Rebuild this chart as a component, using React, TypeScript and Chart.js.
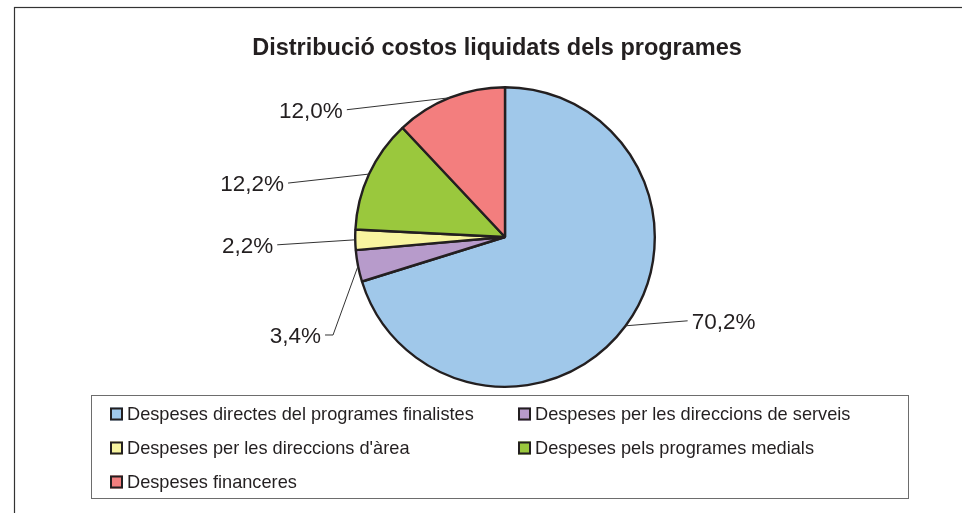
import React, { useEffect, useRef } from "react";
import { Chart, registerables } from "chart.js";

Chart.register(...registerables);

const TITLE = "Distribució costos liquidats dels programes";
const categories = [
  "Despeses directes del programes finalistes",
  "Despeses per les direccions de serveis",
  "Despeses per les direccions d'àrea",
  "Despeses pels programes medials",
  "Despeses financeres",
];
const values = [70.2, 3.4, 2.2, 12.2, 12.0];
const colors = ["#A0C8EA", "#B79BCB", "#F8F5A0", "#9AC83D", "#F37E7E"];

// leader-line elbow offsets from the arc edge (layout only)
const labelLayout = [
  { dx: 62, dy: -5, tail: 0 },
  { dx: -25, dy: 69, tail: -8 },
  { dx: -78, dy: 5, tail: 0 },
  { dx: -81, dy: 9, tail: 0 },
  { dx: -103, dy: 12, tail: 0 },
];

const FONT = "'Liberation Sans', Arial, sans-serif";
const TEXT = "#231F20";

const decorPlugin = {
  id: "decor",
  beforeDraw(chart: any) {
    const ctx = chart.ctx;
    ctx.save();
    ctx.fillStyle = "#fff";
    ctx.fillRect(0, 0, chart.width, chart.height);
    ctx.strokeStyle = "#333";
    ctx.lineWidth = 1.2;
    ctx.strokeRect(14.5, 7.5, chart.width + 20, chart.height + 20);
    ctx.fillStyle = TEXT;
    ctx.font = `bold 23.5px ${FONT}`;
    ctx.textAlign = "center";
    ctx.textBaseline = "alphabetic";
    ctx.fillText(TITLE, 497, 55);
    ctx.restore();
  },
  afterDatasetsDraw(chart: any) {
    const ctx = chart.ctx;
    const meta = chart.getDatasetMeta(0);
    const data = chart.data.datasets[0].data as number[];
    ctx.save();
    ctx.font = `22.5px ${FONT}`;
    ctx.fillStyle = TEXT;
    ctx.textBaseline = "alphabetic";
    meta.data.forEach((arc: any, i: number) => {
      const p = arc.getProps(["x", "y", "startAngle", "endAngle", "outerRadius"], true);
      const mid = (p.startAngle + p.endAngle) / 2;
      const ex = p.x + Math.cos(mid) * p.outerRadius;
      const ey = p.y + Math.sin(mid) * p.outerRadius;
      const L = labelLayout[i];
      const bx = ex + L.dx;
      const by = ey + L.dy;
      const tx = bx + L.tail;
      ctx.strokeStyle = "#333";
      ctx.lineWidth = 1;
      ctx.beginPath();
      ctx.moveTo(ex, ey);
      ctx.lineTo(bx, by);
      if (L.tail) ctx.lineTo(tx, by);
      ctx.stroke();
      const txt = data[i].toFixed(1).replace(".", ",") + "%";
      const right = L.dx < 0;
      ctx.textAlign = right ? "right" : "left";
      ctx.fillText(txt, right ? tx - 4 : tx + 4, by + 8);
    });
    ctx.strokeStyle = "#6d6d6d";
    ctx.lineWidth = 1;
    ctx.strokeRect(91.5, 395.5, 817, 103);
    ctx.font = `18.2px ${FONT}`;
    ctx.textAlign = "left";
    const labels = chart.data.labels as string[];
    const bg = chart.data.datasets[0].backgroundColor as string[];
    labels.forEach((lab: string, i: number) => {
      const col = i % 2;
      const row = Math.floor(i / 2);
      const sx = col === 0 ? 110 : 518;
      const base = 420 + row * 34;
      ctx.fillStyle = bg[i];
      ctx.fillRect(sx, base - 12.5, 13, 13);
      ctx.strokeStyle = "#231F20";
      ctx.lineWidth = 2;
      ctx.strokeRect(sx + 1, base - 11.5, 11, 11);
      ctx.fillStyle = TEXT;
      ctx.fillText(lab, sx + 17, base);
    });
    ctx.restore();
  },
};

export default function App() {
  const ref = useRef<HTMLCanvasElement>(null);
  useEffect(() => {
    if (!ref.current) return;
    const chart = new Chart(ref.current, {
      type: "pie",
      data: {
        labels: categories,
        datasets: [
          {
            data: values,
            backgroundColor: colors,
            borderColor: "#231F20",
            borderWidth: 2.4,
          },
        ],
      },
      options: {
        responsive: false,
        animation: false,
        devicePixelRatio: 1,
        layout: { padding: { left: 354, right: 306, top: 86, bottom: 125 } },
        plugins: {
          legend: { display: false },
          title: { display: false },
          tooltip: { enabled: false },
        },
      },
      plugins: [decorPlugin],
    });
    return () => chart.destroy();
  }, []);
  return (
    <div style={{ position: "fixed", left: 0, top: 0, width: 962, height: 513 }}>
      <canvas ref={ref} width={962} height={513} style={{ display: "block" }} />
    </div>
  );
}
